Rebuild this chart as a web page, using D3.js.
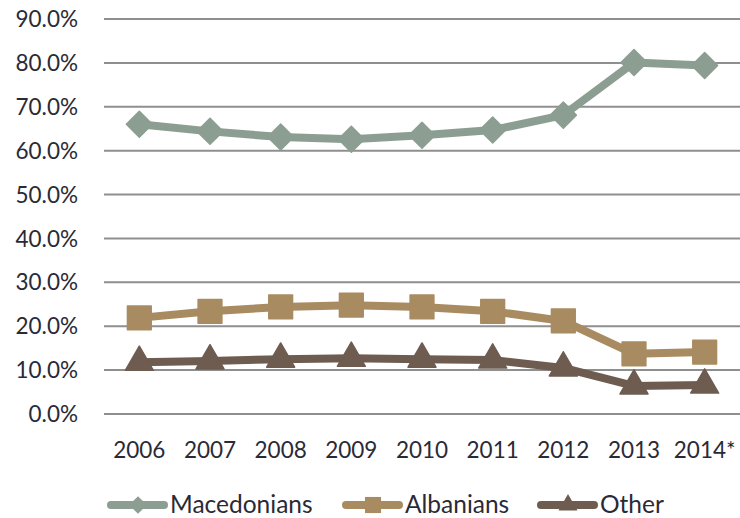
<!DOCTYPE html>
<html>
<head>
<meta charset="utf-8">
<script src="https://cdn.jsdelivr.net/npm/d3@7"></script>
<style>
  body { margin: 0; background: #fff; }
  svg { font-family: Lato, "Open Sans", sans-serif; }
</style>
</head>
<body>
<svg id="chart" width="740" height="518"></svg>
<script>
const years = ['2006','2007','2008','2009','2010','2011','2012','2013','2014*'];
const macedonians = [66.0, 64.4, 63.1, 62.6, 63.5, 64.7, 68.1, 80.1, 79.4];
const albanians = [21.9, 23.4, 24.4, 24.8, 24.4, 23.4, 21.2, 13.7, 14.1];
const other = [11.8, 12.1, 12.5, 12.7, 12.5, 12.3, 10.5, 6.4, 6.6];
const yTicks = [0, 10, 20, 30, 40, 50, 60, 70, 80, 90];

const seriesNames = ['Macedonians', 'Albanians', 'Other'];
const seriesValues = [macedonians, albanians, other];
const colores = ['#8c9e92', '#a98b62', '#6e5c50'];
const simbolos = [d3.symbolDiamond2, d3.symbolSquare2, d3.symbolTriangle2];
const tamanos = [430, 720, 560];
const tamanosLeyenda = [200, 330, 260];

const svg = d3.select('#chart');

const x = d3.scalePoint().domain(years).range([104, 740]).padding(0.5);
const y = d3.scaleLinear().domain([0, 90]).range([414, 19]);

// lineas de la cuadricula
svg.append('g')
  .selectAll('line')
  .data(yTicks)
  .join('line')
  .attr('x1', 104)
  .attr('x2', 740)
  .attr('y1', d => y(d))
  .attr('y2', d => y(d))
  .attr('stroke', '#8f8f8f')
  .attr('stroke-width', 2);

// etiquetas del eje y
svg.append('g')
  .selectAll('text')
  .data(yTicks)
  .join('text')
  .attr('x', 78)
  .attr('y', d => y(d))
  .attr('dy', '0.36em')
  .attr('text-anchor', 'end')
  .attr('font-size', 22.5)
  .attr('fill', '#2a2a36')
  .text(d => d.toFixed(1) + '%');

// etiquetas del eje x
svg.append('g')
  .selectAll('text')
  .data(years)
  .join('text')
  .attr('x', d => x(d))
  .attr('y', 458)
  .attr('text-anchor', 'middle')
  .attr('font-size', 22.5)
  .attr('fill', '#2a2a36')
  .text(d => d);

const linea = d3.line()
  .x((d, i) => x(years[i]))
  .y(d => y(d));

seriesValues.forEach((vals, s) => {
  const g = svg.append('g');
  g.append('path')
    .attr('d', linea(vals))
    .attr('fill', 'none')
    .attr('stroke', colores[s])
    .attr('stroke-width', 8)
    .attr('stroke-linejoin', 'round');

  g.selectAll('path.marca')
    .data(vals)
    .join('path')
    .attr('class', 'marca')
    .attr('transform', (d, i) => `translate(${x(years[i])},${y(d)})`)
    .attr('d', d3.symbol().type(simbolos[s]).size(tamanos[s]))
    .attr('fill', colores[s])
    .attr('stroke', colores[s])
    .attr('stroke-width', 1.5)
    .attr('stroke-linejoin', 'round');
});

// leyenda
const leyendaX = [108, 343, 538];
const leyenda = svg.append('g');
seriesNames.forEach((nombre, s) => {
  const lx = leyendaX[s];
  leyenda.append('line')
    .attr('x1', lx + 3)
    .attr('x2', lx + 56)
    .attr('y1', 505)
    .attr('y2', 505)
    .attr('stroke', colores[s])
    .attr('stroke-width', 8)
    .attr('stroke-linecap', 'round');
  leyenda.append('path')
    .attr('transform', `translate(${lx + 30},505)`)
    .attr('d', d3.symbol().type(simbolos[s]).size(tamanosLeyenda[s]))
    .attr('fill', colores[s]);
  leyenda.append('text')
    .attr('x', lx + 62)
    .attr('y', 513)
    .attr('font-size', 24.5)
    .attr('fill', '#2a2a36')
    .text(nombre);
});
</script>
</body>
</html>
